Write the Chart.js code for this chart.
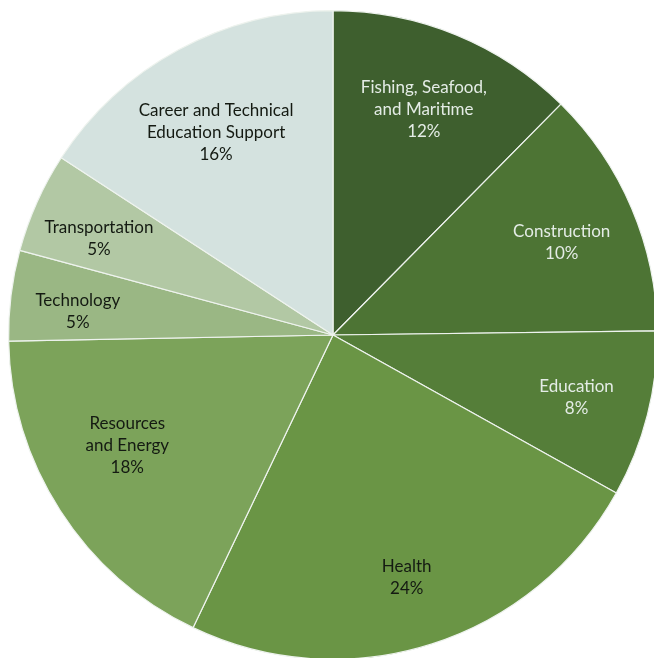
<!DOCTYPE html>
<html>
<head>
<meta charset="utf-8">
<script src="https://cdn.jsdelivr.net/npm/chart.js@4.4.1/dist/chart.umd.min.js"></script>
<style>
  html, body { margin: 0; padding: 0; background: #ffffff; overflow: hidden; }
  #wrap { position: absolute; left: 0; top: 0; width: 658px; height: 660px; }
</style>
</head>
<body>
<div id="wrap"><canvas id="c" width="658" height="660"></canvas></div>
<script>
// Categories (label lines) in drawing order, clockwise from 12 o'clock
const categories = [
  ["Fishing, Seafood,", "and Maritime"],
  ["Construction"],
  ["Education"],
  ["Health"],
  ["Resources", "and Energy"],
  ["Technology"],
  ["Transportation"],
  ["Career and Technical", "Education Support"]
];
// Slice sizes (share of the circle, %)
const sliceValues = [12.4, 12.4, 8.3, 24.0, 17.6, 4.5, 5.0, 15.8];
// Percent labels as printed on the chart
const percentLabels = ["12%", "10%", "8%", "24%", "18%", "5%", "5%", "16%"];

const sliceColors = ["#3e5f2e", "#4d7434", "#557e39", "#6a9545", "#7ca35a", "#9ab784", "#b2c8a4", "#d4e2df"];
const labelColors = ["#e4ece6", "#e4ece6", "#e4ece6", "#141a12", "#141a12", "#141a12", "#141a12", "#141a12"];
// label placement (style): radial fraction and angular nudge in degrees
const labelRadius = [0.75, 0.76, 0.775, 0.78, 0.72, 0.79, 0.78, 0.72];
const labelNudge = [-0.4, 1.1, 0.1, 0.7, 4.5, -1.7, -1.8, -1.6];

const labelPlugin = {
  id: 'sliceLabels',
  afterDatasetsDraw(chart) {
    const ctx = chart.ctx;
    const meta = chart.getDatasetMeta(0);
    ctx.save();
    ctx.font = '17px Lato, "Open Sans", sans-serif';
    ctx.textAlign = 'center';
    ctx.textBaseline = 'middle';
    const lh = 22;
    meta.data.forEach((arc, i) => {
      const p = arc.getProps(['x', 'y', 'startAngle', 'endAngle', 'outerRadius'], true);
      const mid = (p.startAngle + p.endAngle) / 2 + labelNudge[i] * Math.PI / 180;
      const r = p.outerRadius * labelRadius[i];
      const cx = p.x + Math.cos(mid) * r;
      const cy = p.y + Math.sin(mid) * r;
      const lines = categories[i].concat([percentLabels[i]]);
      const y0 = cy - (lines.length - 1) * lh / 2;
      ctx.fillStyle = labelColors[i];
      lines.forEach((t, k) => ctx.fillText(t, cx, y0 + k * lh));
    });
    ctx.restore();
  }
};

new Chart(document.getElementById('c'), {
  type: 'pie',
  data: {
    labels: categories.map(c => c.join(' ')),
    datasets: [{
      data: sliceValues,
      backgroundColor: sliceColors,
      borderColor: '#eef3ee',
      borderWidth: 1.2,
      borderAlign: 'center'
    }]
  },
  options: {
    responsive: false,
    animation: false,
    layout: { padding: { left: 8, top: 10, right: 0, bottom: 0 } },
    rotation: 0,
    plugins: {
      legend: { display: false },
      tooltip: { enabled: false }
    }
  },
  plugins: [labelPlugin]
});
</script>
</body>
</html>
